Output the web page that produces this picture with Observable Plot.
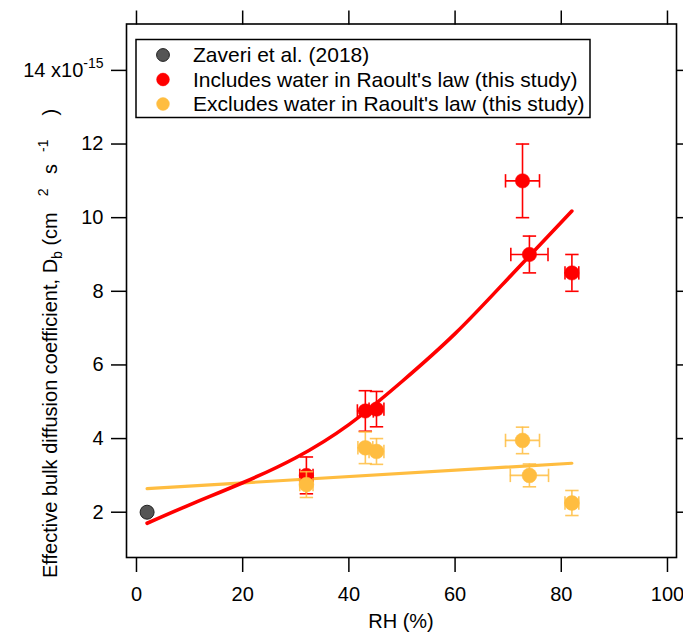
<!DOCTYPE html>
<html><head><meta charset="utf-8">
<script src="https://cdn.jsdelivr.net/npm/d3@7"></script>
<script src="https://cdn.jsdelivr.net/npm/@observablehq/plot@0.6"></script>
<style>body{margin:0;background:#fff;overflow:hidden}#chart svg{display:block}</style>
</head><body><div id="chart"></div>
<script>
// ---- data ----
const zaveriRH = [2];
const zaveriDb = [2.0];

const studyRH    = [32, 43.1, 45.2, 72.7, 74, 82];
const inclDb     = [3.0, 4.75, 4.8, 11.0, 9.0, 8.5];
const inclDbErr  = [0.5, 0.55, 0.48, 1.0, 0.5, 0.5];
const inclRHErr  = [1.25, 1.5, 1.4, 3.2, 3.5, 1.3];

const exclDb     = [2.75, 3.75, 3.65, 3.95, 3.0, 2.25];
const exclDbErr  = [0.35, 0.43, 0.35, 0.36, 0.31, 0.34];
const exclRHErr  = [1.25, 1.4, 1.4, 3.2, 3.6, 1.3];

const inclFitRH = [2, 10, 20, 30, 40, 50, 60, 70, 82];
const inclFitDb = [1.70, 2.20, 2.80, 3.48, 4.38, 5.55, 6.85, 8.35, 10.18];
const exclFitRH = [2, 82];
const exclFitDb = [2.64, 3.33];

const xTicks = [0, 20, 40, 60, 80, 100];
const yTicks = [2, 4, 6, 8, 10, 12, 14];

const legendLabels = ["Zaveri et al. (2018)", "Includes water in Raoult's law (this study)", "Excludes water in Raoult's law (this study)"];

// ---- tables ----
const RED = "#ff0000", ORANGE = "#ffbd40", DARK = "#555555";
const zaveri = zaveriRH.map((x, i) => ({x, y: zaveriDb[i]}));
const incl = studyRH.map((x, i) => ({x, y: inclDb[i], ye: inclDbErr[i], xe: inclRHErr[i]}));
const excl = studyRH.map((x, i) => ({x, y: exclDb[i], ye: exclDbErr[i], xe: exclRHErr[i]}));
const inclFit = inclFitRH.map((x, i) => ({x, y: inclFitDb[i]}));
const exclFit = exclFitRH.map((x, i) => ({x, y: exclFitDb[i]}));

const hCap = {draw(ctx, size) { const r = Math.sqrt(size / Math.PI); ctx.moveTo(-r, 0); ctx.lineTo(r, 0); }};
const vCap = {draw(ctx, size) { const r = Math.sqrt(size / Math.PI); ctx.moveTo(0, -r); ctx.lineTo(0, r); }};

function errorMarks(data, color) {
  const o = {stroke: color, strokeWidth: 1.6, strokeOpacity: color === ORANGE ? 0.85 : 1};
  return [
    Plot.ruleX(data, {x: "x", y1: d => d.y - d.ye, y2: d => d.y + d.ye, ...o}),
    Plot.ruleY(data, {y: "y", x1: d => d.x - d.xe, x2: d => d.x + d.xe, ...o}),
    Plot.dot(data, {x: "x", y: d => d.y + d.ye, symbol: hCap, r: 6.7, fill: "none", ...o}),
    Plot.dot(data, {x: "x", y: d => d.y - d.ye, symbol: hCap, r: 6.7, fill: "none", ...o}),
    Plot.dot(data, {x: d => d.x - d.xe, y: "y", symbol: vCap, r: 6.7, fill: "none", ...o}),
    Plot.dot(data, {x: d => d.x + d.xe, y: "y", symbol: vCap, r: 6.7, fill: "none", ...o})
  ];
}

const FONT = "'Liberation Sans', Arial, Helvetica, sans-serif";

const svg = Plot.plot({
  width: 683,
  height: 633,
  marginLeft: 126,
  marginRight: 7,
  marginTop: 23.5,
  marginBottom: 76,
  style: {fontFamily: FONT, fontSize: "20px", background: "#fff", color: "#000", overflow: "visible"},
  x: {domain: [-1.88, 101.7]},
  y: {domain: [0.77, 15.26]},
  marks: [
    Plot.axisX({ticks: xTicks, anchor: "bottom", tickSize: 15, tickPadding: 14, fontSize: 20, label: null, strokeWidth: 1.5}),
    Plot.axisX({ticks: xTicks, anchor: "top", tickSize: 14, tickFormat: () => "", label: null, strokeWidth: 1.5}),
    Plot.axisY({ticks: yTicks, anchor: "left", tickSize: 15, tickPadding: 8, fontSize: 20, label: null, strokeWidth: 1.5,
                tickFormat: d => d === 14 ? "14 x10" : String(d)}),
    Plot.axisY({ticks: yTicks, anchor: "right", tickSize: 15, tickFormat: () => "", label: null, strokeWidth: 1.5}),
    Plot.frame({stroke: "#000", strokeWidth: 1.6}),
    Plot.line(exclFit, {x: "x", y: "y", stroke: ORANGE, strokeWidth: 3.2}),
    Plot.line(inclFit, {x: "x", y: "y", stroke: RED, strokeWidth: 3.6, curve: "natural"}),
    ...errorMarks(incl, RED),
    Plot.dot(incl, {x: "x", y: "y", r: 7.2, fill: RED, stroke: RED, strokeWidth: 0.5}),
    ...errorMarks(excl, ORANGE),
    Plot.dot(excl, {x: "x", y: "y", r: 7.4, fill: ORANGE, stroke: ORANGE, strokeWidth: 0.5}),
    Plot.dot(zaveri, {x: "x", y: "y", r: 7, fill: DARK, stroke: "#222", strokeWidth: 1})
  ]
});
document.getElementById("chart").appendChild(svg);

const s = d3.select(svg);
// superscript exponent on the top tick label
s.selectAll("text").each(function() {
  if (this.textContent === "14 x10") {
    d3.select(this).append("tspan").attr("font-size", 14).attr("dy", "-0.6em").text("-15");
  }
});

// y-axis title
const lab = s.append("text")
  .attr("transform", "translate(57,578) rotate(-90)")
  .attr("text-anchor", "start")
  .attr("font-family", FONT).attr("font-size", 20).attr("fill", "#000");
lab.append("tspan").text("Effective bulk diffusion coefficient, D");
lab.append("tspan").attr("font-size", 14).attr("dy", 5).text("b");
lab.append("tspan").attr("dy", -5).text(" (cm");
lab.append("tspan").attr("font-size", 14).attr("dx", 16).attr("dy", -9).text("2");
lab.append("tspan").attr("dy", 9).attr("dx", 9).text(" s");
lab.append("tspan").attr("font-size", 14).attr("dx", 12).attr("dy", -9).text("-1");
lab.append("tspan").attr("dy", 9).attr("dx", 24).text(")");

// x-axis title
s.append("text").attr("x", 401).attr("y", 628).attr("text-anchor", "middle")
  .attr("font-family", FONT).attr("font-size", 20).attr("fill", "#000").text("RH (%)");

// legend
const lg = s.append("g");
lg.append("rect").attr("x", 136).attr("y", 39.5).attr("width", 454).attr("height", 78)
  .attr("fill", "#fff").attr("stroke", "#000").attr("stroke-width", 1.5);
const lColors = [DARK, RED, ORANGE];
const lStroke = ["#222", RED, ORANGE];
legendLabels.forEach((t, i) => {
  const cy = 55 + i * 24.5;
  lg.append("circle").attr("cx", 163).attr("cy", cy).attr("r", 6.4)
    .attr("fill", lColors[i]).attr("stroke", lStroke[i]).attr("stroke-width", i === 0 ? 1 : 0.5);
  lg.append("text").attr("x", 193).attr("y", cy + 7.4).attr("text-anchor", "start")
    .attr("font-family", FONT).attr("font-size", 21).attr("fill", "#000").text(t);
});
</script>
</body></html>
